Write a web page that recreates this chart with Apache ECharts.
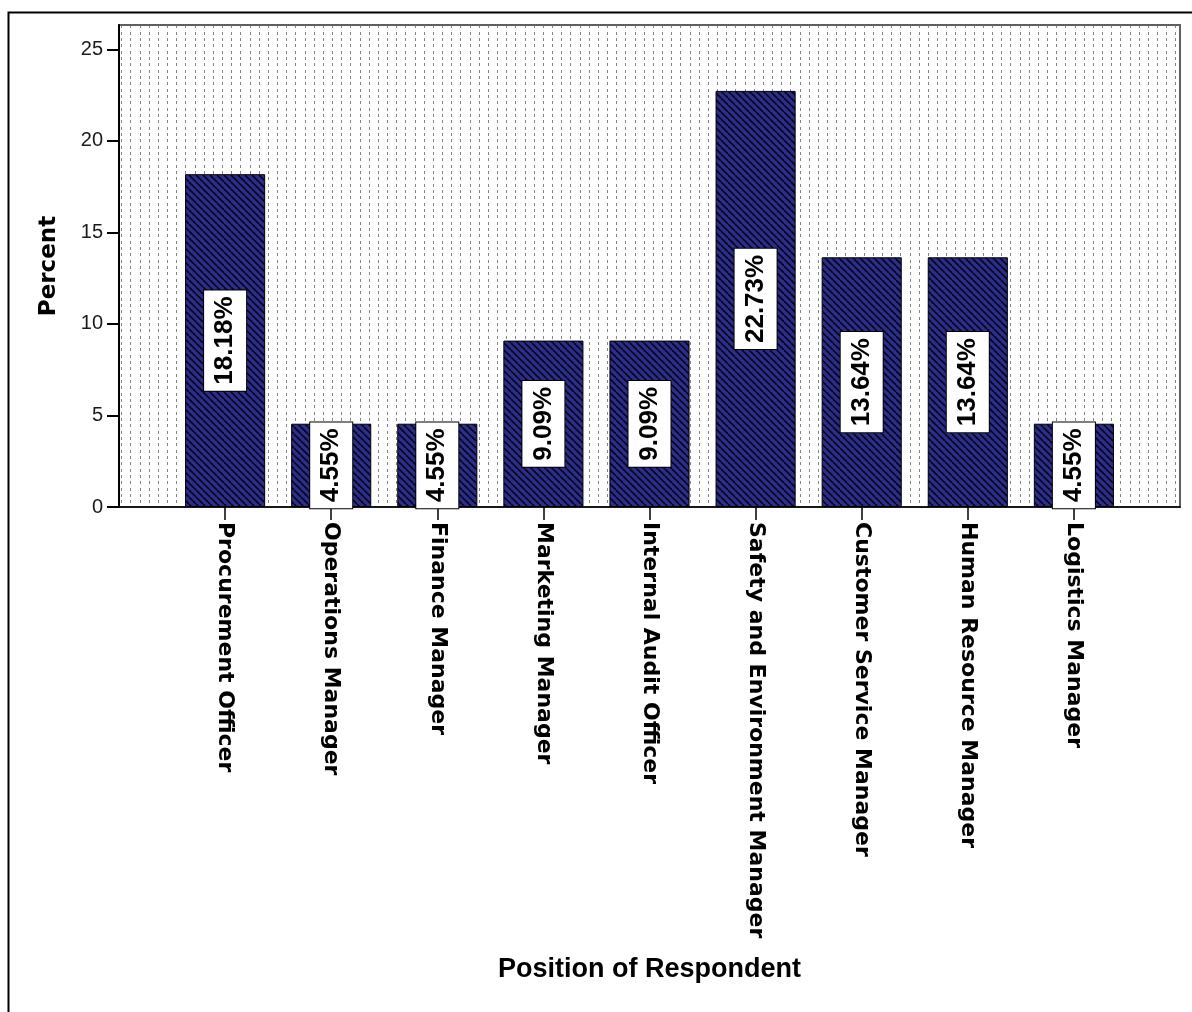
<!DOCTYPE html>
<html>
<head>
<meta charset="utf-8">
<title>Position of Respondent</title>
<script src="https://cdn.jsdelivr.net/npm/echarts@6/dist/echarts.min.js"></script>
<style>
  html, body { margin: 0; padding: 0; background: #fff; }
  #chart { width: 1192px; height: 1012px; }
</style>
</head>
<body>
<div id="chart"></div>
<script>
// Respondent positions and their share of the sample (%)
const categories = [
  'Procurement Officer',
  'Operations Manager',
  'Finance Manager',
  'Marketing Manager',
  'Internal Audit Officer',
  'Safety and Environment Manager',
  'Customer Service Manager',
  'Human Resource Manager',
  'Logistics Manager'
];
const percents = [18.18, 4.55, 4.55, 9.09, 9.09, 22.73, 13.64, 13.64, 4.55];
const yTicks = [0, 5, 10, 15, 20, 25];

// Half-slot spacers at both ends of the category axis
const xData = [''].concat(categories, [' ']);
const yData = [null].concat(percents, [null]);

// Dotted vertical-line fill for the plot area
function makeDotPattern() {
  const c = document.createElement('canvas');
  c.width = 55; c.height = 19;
  const g = c.getContext('2d');
  g.fillStyle = '#ffffff';
  g.fillRect(0, 0, c.width, c.height);
  g.fillStyle = '#858585';
  for (let i = 0; i < 6; i++) {
    const x = Math.round(i * 55 / 6) + 2;
    for (let j = 0; j < 3; j++) {
      const y = Math.round(j * 19 / 3);
      g.fillRect(x, y, 1, 3);
    }
  }
  return c;
}

// Navy bars with dark diagonal hatching
function makeHatchPattern() {
  const s = 7;
  const c = document.createElement('canvas');
  c.width = s; c.height = s;
  const g = c.getContext('2d');
  g.fillStyle = '#2d2d8c';
  g.fillRect(0, 0, s, s);
  g.strokeStyle = '#05051a';
  g.lineWidth = 1.6;
  for (let k = -s; k <= s; k += s) {
    g.beginPath();
    g.moveTo(k, 0);
    g.lineTo(k + s, s);
    g.stroke();
  }
  return c;
}

const chart = echarts.init(document.getElementById('chart'), null, { renderer: 'canvas' });

const option = {
  animation: false,
  backgroundColor: '#ffffff',
  graphic: [{
    type: 'rect',
    left: 6,
    top: 10,
    shape: { width: 1200, height: 1010 },
    style: { fill: 'none', stroke: '#000', lineWidth: 2 },
    z: -1
  }],
  grid: {
    left: 119,
    top: 25,
    width: 1061,
    height: 482,
    show: true,
    backgroundColor: { image: makeDotPattern(), repeat: 'repeat' },
    borderColor: '#606060',
    borderWidth: 2
  },
  xAxis: {
    type: 'category',
    data: xData,
    boundaryGap: false,
    name: 'Position of Respondent',
    nameLocation: 'middle',
    nameGap: 449,
    nameTextStyle: {
      fontFamily: 'Liberation Sans',
      fontWeight: 'bold',
      fontSize: 27,
      color: '#000'
    },
    axisLine: { show: true, lineStyle: { color: '#000', width: 1.5 } },
    axisTick: {
      show: true,
      length: 13,
      interval: function (index) { return index > 0 && index < xData.length - 1; },
      lineStyle: { color: '#000', width: 1.5 }
    },
    axisLabel: {
      interval: 0,
      rotate: -90,
      margin: 15,
      fontFamily: 'DejaVu Sans',
      fontWeight: 'bold',
      fontSize: 22,
      color: '#000'
    },
    splitLine: { show: false }
  },
  yAxis: {
    type: 'value',
    min: 0,
    max: 26.33,
    interval: 5,
    name: 'Percent',
    nameLocation: 'middle',
    nameGap: 58,
    nameTextStyle: {
      fontFamily: 'DejaVu Sans',
      fontWeight: 'bold',
      fontSize: 23,
      color: '#000'
    },
    axisLine: { show: true, lineStyle: { color: '#000', width: 2 } },
    axisTick: {
      show: true,
      length: 12,
      customValues: yTicks,
      lineStyle: { color: '#000', width: 2 }
    },
    axisLabel: {
      customValues: yTicks,
      margin: 16,
      fontFamily: 'Liberation Sans',
      fontSize: 20,
      color: '#1a1a1a'
    },
    splitLine: { show: false }
  },
  series: [{
    type: 'bar',
    data: yData,
    barWidth: '75.5%',
    itemStyle: {
      color: { image: makeHatchPattern(), repeat: 'repeat' },
      borderColor: '#000',
      borderWidth: 1
    },
    label: {
      show: true,
      position: 'inside',
      rotate: 90,
      formatter: function (p) { return p.value.toFixed(2) + '%'; },
      fontFamily: 'Liberation Sans',
      fontWeight: 'bold',
      fontSize: 26,
      lineHeight: 26,
      color: '#000',
      backgroundColor: '#fff',
      borderColor: '#000',
      borderWidth: 1,
      padding: [8, 6]
    }
  }]
};

chart.setOption(option);
</script>
</body>
</html>
